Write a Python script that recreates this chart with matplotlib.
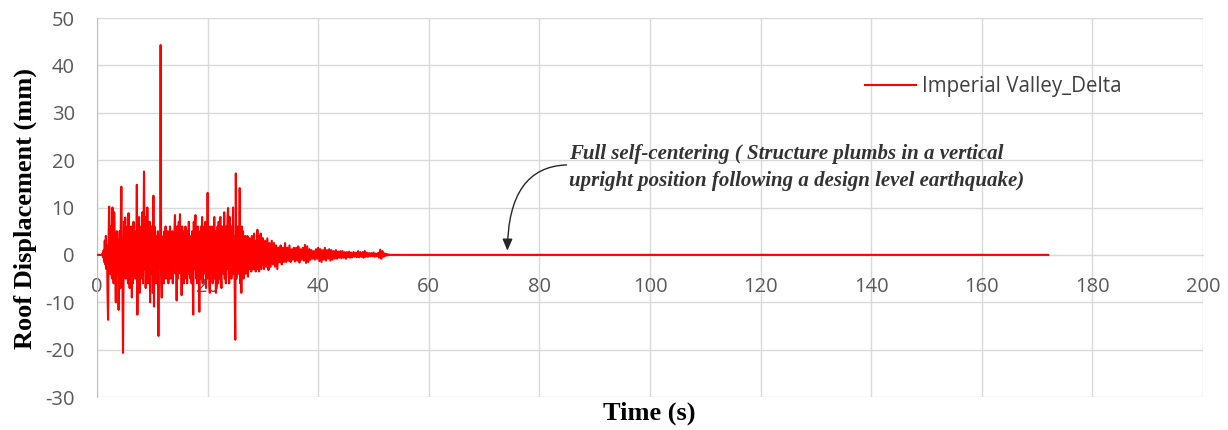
import matplotlib
matplotlib.use("Agg")
import matplotlib.pyplot as plt

plt.rcParams["axes.unicode_minus"] = False

# roof displacement history, Imperial Valley (Delta record)
# quiet start before the strong motion
time_pre = [0.0, 0.5, 0.9]
disp_pre = [0.0, 0.0, 0.0]

# strong motion part, 0.1 s samples
time_strong = [
    1.0, 1.1, 1.2, 1.3, 1.4, 1.5, 1.6, 1.7, 1.8, 1.9,
    2.0, 2.1, 2.2, 2.3, 2.4, 2.5, 2.6, 2.7, 2.8, 2.9,
    3.0, 3.1, 3.2, 3.3, 3.4, 3.5, 3.6, 3.7, 3.8, 3.9,
    4.0, 4.1, 4.2, 4.3, 4.4, 4.5, 4.6, 4.7, 4.8, 4.9,
    5.0, 5.1, 5.2, 5.3, 5.4, 5.5, 5.6, 5.7, 5.8, 5.9,
    6.0, 6.1, 6.2, 6.3, 6.4, 6.5, 6.6, 6.7, 6.8, 6.9,
    7.0, 7.1, 7.2, 7.3, 7.4, 7.5, 7.6, 7.7, 7.8, 7.9,
    8.0, 8.1, 8.2, 8.3, 8.4, 8.5, 8.6, 8.7, 8.8, 8.9,
    9.0, 9.1, 9.2, 9.3, 9.4, 9.5, 9.6, 9.7, 9.8, 9.9,
    10.0, 10.1, 10.2, 10.3, 10.4, 10.5, 10.6, 10.7, 10.8, 10.9,
    11.0, 11.1, 11.2, 11.3, 11.4, 11.5, 11.6, 11.7, 11.8, 11.9,
    12.0, 12.1, 12.2, 12.3, 12.4, 12.5, 12.6, 12.7, 12.8, 12.9,
    13.0, 13.1, 13.2, 13.3, 13.4, 13.5, 13.6, 13.7, 13.8, 13.9,
    14.0, 14.1, 14.2, 14.3, 14.4, 14.5, 14.6, 14.7, 14.8, 14.9,
    15.0, 15.1, 15.2, 15.3, 15.4, 15.5, 15.6, 15.7, 15.8, 15.9,
    16.0, 16.1, 16.2, 16.3, 16.4, 16.5, 16.6, 16.7, 16.8, 16.9,
    17.0, 17.1, 17.2, 17.3, 17.4, 17.5, 17.6, 17.7, 17.8, 17.9,
    18.0, 18.1, 18.2, 18.3, 18.4, 18.5, 18.6, 18.7, 18.8, 18.9,
    19.0, 19.1, 19.2, 19.3, 19.4, 19.5, 19.6, 19.7, 19.8, 19.9,
    20.0, 20.1, 20.2, 20.3, 20.4, 20.5, 20.6, 20.7, 20.8, 20.9,
    21.0, 21.1, 21.2, 21.3, 21.4, 21.5, 21.6, 21.7, 21.8, 21.9,
    22.0, 22.1, 22.2, 22.3, 22.4, 22.5, 22.6, 22.7, 22.8, 22.9,
    23.0, 23.1, 23.2, 23.3, 23.4, 23.5, 23.6, 23.7, 23.8, 23.9,
    24.0, 24.1, 24.2, 24.3, 24.4, 24.5, 24.6, 24.7, 24.8, 24.9,
    25.0, 25.1, 25.2, 25.3, 25.4, 25.5, 25.6, 25.7, 25.8, 25.9,
    26.0, 26.1, 26.2, 26.3, 26.4, 26.5, 26.6, 26.7, 26.8, 26.9,
    27.0, 27.1, 27.2, 27.3, 27.4, 27.5, 27.6, 27.7, 27.8, 27.9,
    28.0, 28.1, 28.2, 28.3, 28.4, 28.5, 28.6, 28.7, 28.8, 28.9,
    29.0, 29.1, 29.2, 29.3, 29.4, 29.5, 29.6, 29.7, 29.8, 29.9,
]
disp_strong = [
    0.3, -0.5, 1.0, -1.5, 3.0, -2.0, 4.0, -3.0, 2.0, -8.0,
    -13.7, 4.0, 10.2, 3.0, -4.0, 6.0, 2.0, -5.0, 10.0, 1.0,
    -6.0, 9.0, 4.0, -3.0, -10.0, 2.0, 5.0, -4.0, 3.0, -11.6,
    -2.0, 5.0, -7.0, 6.0, 14.4, 2.0, -6.0, -20.7, -4.0, 7.0,
    -3.0, 7.9, -5.0, 4.0, -2.0, 6.0, -6.0, 8.8, 1.0, -7.0,
    5.0, -4.0, 6.0, -9.0, 3.0, -6.0, 7.0, -2.0, 5.0, -5.0,
    4.0, -3.0, 14.8, -12.6, 6.0, -2.0, 8.0, -8.0, 3.0, -5.0,
    6.0, -4.0, 9.0, -6.0, 3.0, 17.6, -3.0, 8.0, -7.0, 5.0,
    -4.0, 10.0, -6.0, 3.0, -5.0, 7.0, -10.0, 2.0, 6.0, -4.0,
    5.0, -8.0, 12.5, -10.9, 6.0, -3.0, 4.0, -6.0, 3.0, -5.0,
    5.0, -17.1, 2.0, 4.0, -3.0, 44.3, -4.0, -9.0, 3.0, -5.0,
    4.0, -6.0, 5.0, -3.0, 6.0, -5.0, 3.0, -4.0, 5.0, -6.0,
    4.0, -3.0, 6.0, -5.0, 2.0, -4.0, 5.0, -6.0, 3.0, -2.0,
    5.0, 8.4, -4.0, 3.0, -9.6, 6.0, -5.0, 4.0, 7.0, -3.0,
    8.6, -4.0, 5.0, -8.5, 6.0, -3.0, 4.0, -6.0, 5.0, -4.0,
    6.0, -5.0, 3.0, -6.0, 5.0, -4.0, 7.0, -3.0, 4.0, -5.0,
    3.0, -6.0, 5.0, -4.0, -12.6, 7.0, -3.0, 5.0, 8.4, -5.0,
    4.0, -6.0, 6.0, -3.0, 5.0, -12.0, 3.0, -5.0, 6.0, -4.0,
    8.0, -6.0, 5.0, -4.0, 6.0, -3.0, 7.0, -7.0, 4.0, -5.0,
    13.1, -3.0, 6.0, -5.0, -8.0, 4.0, 6.0, -4.0, 3.0, -6.0,
    6.0, -5.0, 8.0, -3.0, 4.0, -8.0, 5.0, -4.0, 6.0, -6.0,
    7.0, -5.0, 3.0, 8.0, -4.0, -7.0, 6.0, -3.0, 5.0, -4.0,
    9.0, -5.0, 4.0, -6.0, 6.0, -3.0, 8.0, 9.9, -4.0, -6.0,
    8.0, -4.0, 5.0, -5.0, 6.0, -3.0, 10.0, -4.0, 4.0, -6.0,
    -17.9, 17.2, -5.0, 3.0, 6.0, -4.0, 5.0, -2.0, 14.1, -6.0,
    4.0, -8.0, 6.0, -4.0, 5.0, -5.0, 3.0, -3.0, 4.0, -4.0,
    3.0, -2.0, 4.0, -4.6, 2.0, -3.0, 3.5, -2.0, 3.0, -3.5,
    4.0, -2.5, 3.0, -3.0, 4.5, -2.0, 3.0, -3.5, 2.5, -2.0,
    5.3, -3.0, 4.0, -3.5, 3.0, -2.5, 4.5, -3.0, 3.5, -2.0,
]

# free vibration decay, 0.2 s samples
time_decay = [
    30.0, 30.2, 30.4, 30.6, 30.8, 31.0, 31.2, 31.4, 31.6, 31.8,
    32.0, 32.2, 32.4, 32.6, 32.8, 33.0, 33.2, 33.4, 33.6, 33.8,
    34.0, 34.2, 34.4, 34.6, 34.8, 35.0, 35.2, 35.4, 35.6, 35.8,
    36.0, 36.2, 36.4, 36.6, 36.8, 37.0, 37.2, 37.4, 37.6, 37.8,
    38.0, 38.2, 38.4, 38.6, 38.8, 39.0, 39.2, 39.4, 39.6, 39.8,
    40.0, 40.2, 40.4, 40.6, 40.8, 41.0, 41.2, 41.4, 41.6, 41.8,
    42.0, 42.2, 42.4, 42.6, 42.8, 43.0, 43.2, 43.4, 43.6, 43.8,
    44.0, 44.2, 44.4, 44.6, 44.8, 45.0, 45.2, 45.4, 45.6, 45.8,
    46.0, 46.2, 46.4, 46.6, 46.8, 47.0, 47.2, 47.4, 47.6, 47.8,
    48.0, 48.2, 48.4, 48.6, 48.8, 49.0, 49.2, 49.4, 49.6, 49.8,
    50.0, 50.2, 50.4, 50.6, 50.8, 51.0, 51.2, 51.4, 51.6, 51.8,
    52.0, 52.2, 52.4, 52.6, 52.8,
]
disp_decay = [
    3.5, -3.0, 3.0, -2.5, 3.5, -3.2, 2.5, -2.5, 3.0, -2.0,
    2.5, -2.5, 2.0, -3.0, 1.5, -1.5, 2.0, -2.0, 1.5, -1.5,
    2.5, -1.5, 1.5, -1.2, 2.0, -1.5, 1.2, -1.0, 1.5, -1.4,
    1.5, -1.2, 1.8, -1.6, 1.2, -1.0, 1.5, -1.2, 2.1, -1.7,
    1.8, -1.5, 1.2, -1.0, 1.0, -0.8, 0.8, -1.0, 1.2, -0.8,
    1.5, -1.3, 1.2, -1.5, 1.0, -1.0, 1.5, -1.2, 1.0, -0.8,
    1.2, -1.2, 1.0, -1.0, 0.8, -0.8, 1.0, -0.8, 0.7, -0.6,
    0.8, -0.7, 0.8, -0.6, 0.6, -0.8, 0.6, -0.5, 0.7, -0.6,
    0.5, -0.5, 0.6, -0.4, 0.5, -0.5, 0.8, -0.5, 0.6, -0.4,
    0.6, -0.6, 0.8, -0.4, 0.5, -0.4, 0.4, -0.3, 0.4, -0.3,
    0.5, -0.4, 0.3, -0.3, 0.4, -0.6, 1.1, -0.8, 0.8, -0.4,
    0.3, -0.2, 0.2, -0.1, 0.1,
]

# residual displacement after the shaking stops
time_tail = [53.0, 172.0]
disp_tail = [0.0, 0.0]

assert len(time_strong) == len(disp_strong)
assert len(time_decay) == len(disp_decay)

time_s = time_pre + time_strong + time_decay + time_tail
disp_mm = disp_pre + disp_strong + disp_decay + disp_tail

x_ticks = list(range(0, 201, 20))
y_ticks = list(range(-30, 51, 10))

fig = plt.figure(figsize=(12.28, 4.30), dpi=100)
ax = fig.add_axes([0.079, 0.0767, 0.9007, 0.8814])

ax.plot(time_s, disp_mm, color="#FF0000", lw=1.5, label="Imperial Valley_Delta", zorder=3)

ax.set_xlim(0, 200)
ax.set_ylim(-30, 50)
ax.set_xticks(x_ticks)
ax.set_yticks(y_ticks)
ax.grid(True, color="#D9D9D9", lw=1.0)
ax.set_axisbelow(True)

# excel style: category axis crosses at zero
ax.spines["bottom"].set_position(("data", 0))
ax.spines["bottom"].set_color("#D9D9D9")
ax.spines["left"].set_color("#BFBFBF")
ax.spines["top"].set_visible(False)
ax.spines["right"].set_visible(False)
ax.tick_params(length=0, labelsize=14.5, labelcolor="#595959")
ax.tick_params(axis="x", pad=16)
ax.tick_params(axis="y", pad=16)
for lbl in ax.get_xticklabels() + ax.get_yticklabels():
    lbl.set_family("Open Sans")

fig.text(0.0204, 0.516, "Roof Displacement (mm)", family="Liberation Serif", fontweight="bold",
         fontsize=19, rotation=90, ha="center", va="center")
fig.text(0.5285, 0.0395, "Time (s)", family="Liberation Serif", fontweight="bold",
         fontsize=19, ha="center", va="center")

leg = ax.legend(loc="center left", bbox_to_anchor=(0.694, 0.818), frameon=False,
                handlelength=2.5, handletextpad=0.3, borderpad=0, borderaxespad=0,
                prop={"family": "Open Sans", "size": 14.8})
for t in leg.get_texts():
    t.set_color("#404040")

ax.text(85.4, 18.4, "Full self-centering ( Structure plumbs in a vertical\n"
        "upright position following a design level earthquake)",
        family="Liberation Serif", style="italic", fontweight="bold", fontsize=15,
        color="#333333", ha="left", va="center", linespacing=1.45)
ax.annotate("", xy=(74.2, 0.3), xytext=(85.4, 19.0),
            arrowprops=dict(arrowstyle="-|>,head_length=0.7,head_width=0.3", color="#262626",
                            lw=1.0, connectionstyle="angle3,angleA=0,angleB=90"))

fig.savefig("out.png", dpi=100)
